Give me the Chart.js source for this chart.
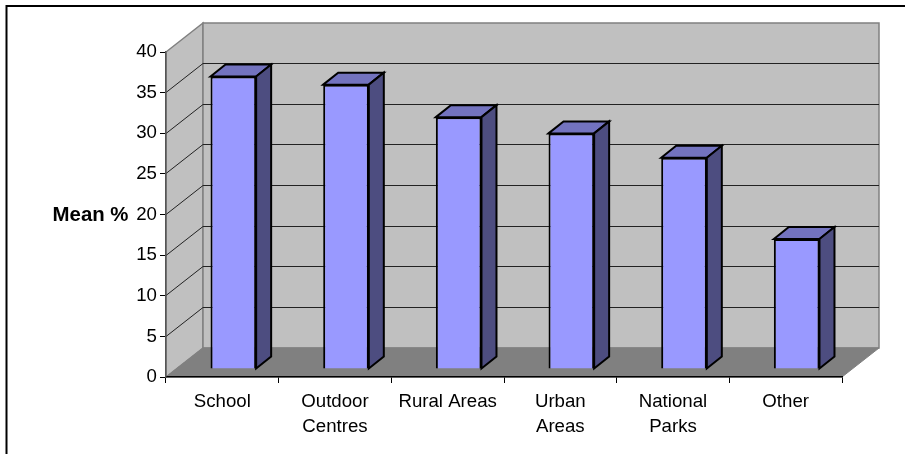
<!DOCTYPE html>
<html>
<head>
<meta charset="utf-8">
<title>Mean %</title>
<script src="https://cdn.jsdelivr.net/npm/chart.js@4"></script>
<style>
    html, body { margin: 0; padding: 0; background: #fff; }
    #wrap { width: 905px; height: 454px; }
</style>
</head>
<body>
<div id="wrap"><canvas id="meanChart" width="905" height="454"></canvas></div>
<script>
/* ==========================================
   DATA
========================================== */

const categories = [
    "School",
    ["Outdoor", "Centres"],
    "Rural Areas",
    ["Urban", "Areas"],
    ["National", "Parks"],
    "Other"
];
const meanValues = [36, 35, 31, 29, 26, 16];
const yTicks = [0, 5, 10, 15, 20, 25, 30, 35, 40];
const yTitle = "Mean %";

/* ==========================================
   3D LOOK OF THE OLD SPREADSHEET CHART
========================================== */

const wallDepth = { x: 37, y: -29 };
const barShift = { x: 11, y: -8 };
const barDepth = { x: 15, y: -12 };

function polygon(ctx, points, fill, stroke, lineWidth) {
    ctx.beginPath();
    points.forEach((p, i) => i ? ctx.lineTo(p[0], p[1]) : ctx.moveTo(p[0], p[1]));
    ctx.closePath();
    ctx.fillStyle = fill;
    ctx.fill();
    if (stroke) {
        ctx.strokeStyle = stroke;
        ctx.lineWidth = lineWidth;
        ctx.stroke();
    }
}

const frame3d = {
    id: "frame3d",

    beforeDraw(chart) {
        const { ctx, chartArea: a } = chart;
        const y = chart.scales.y;
        const dx = wallDepth.x, dy = wallDepth.y;

        ctx.save();

        // the chart object is cropped: only its top and left border show
        ctx.strokeStyle = "#000";
        ctx.lineWidth = 2;
        ctx.beginPath();
        ctx.moveTo(6.5, 454);
        ctx.lineTo(6.5, 6);
        ctx.lineTo(905, 6);
        ctx.stroke();

        // side wall, back wall, floor
        polygon(ctx, [[a.left, a.top], [a.left + dx, a.top + dy], [a.left + dx, a.bottom + dy], [a.left, a.bottom]], "#C0C0C0", "#808080", 1.5);
        polygon(ctx, [[a.left + dx, a.top + dy], [a.right + dx, a.top + dy], [a.right + dx, a.bottom + dy], [a.left + dx, a.bottom + dy]], "#C0C0C0", "#808080", 1.5);
        polygon(ctx, [[a.left, a.bottom], [a.left + dx, a.bottom + dy], [a.right + dx, a.bottom + dy], [a.right, a.bottom]], "#808080", "#808080", 1);

        // gridlines run along the side wall and then across the back
        ctx.strokeStyle = "#222";
        ctx.lineWidth = 1;
        yTicks.slice(1, -1).forEach(v => {
            const py = Math.floor(y.getPixelForValue(v)) + 0.5;
            ctx.beginPath();
            ctx.moveTo(a.left, py);
            ctx.lineTo(a.left + dx, py + dy);
            ctx.lineTo(a.right + dx, py + dy);
            ctx.stroke();
        });

        // y axis title
        ctx.fillStyle = "#000";
        ctx.font = "bold 20.4px 'Liberation Sans'";
        ctx.textAlign = "right";
        ctx.textBaseline = "middle";
        ctx.fillText(yTitle, 128.5, y.getPixelForValue(20) + 1);

        ctx.restore();
    },

    beforeDatasetsDraw(chart) {
        const { ctx } = chart;
        ctx.save();
        ctx.translate(barShift.x, barShift.y);

        // top and side faces go under the native bar, which is the front face
        chart.getDatasetMeta(0).data.forEach(bar => {
            const half = bar.width / 2;
            const l = bar.x - half, r = bar.x + half, t = bar.y, b = bar.base;
            const dx = barDepth.x, dy = barDepth.y;
            polygon(ctx, [[l, t], [l + dx, t + dy], [r + dx, t + dy], [r, t]], "#7373BF", "#000", 2);
            polygon(ctx, [[r, t], [r + dx, t + dy], [r + dx, b + dy], [r, b]], "#4D4D80", "#000", 2);
        });
    },

    afterDatasetsDraw(chart) {
        chart.ctx.restore();
    }
};

/* ==========================================
   CHART
========================================== */

new Chart(document.getElementById("meanChart"), {
    type: "bar",

    data: {
        labels: categories,
        datasets: [{
            label: yTitle,
            data: meanValues,
            backgroundColor: "#9999FF",
            borderColor: "#000",
            borderWidth: 2,
            barPercentage: 0.405,
            categoryPercentage: 1,
            clip: false
        }]
    },

    options: {
        responsive: false,
        animation: false,
        layout: { padding: { left: 0, top: 52, right: 63, bottom: 0 } },

        plugins: {
            legend: { display: false },
            tooltip: { enabled: false }
        },

        scales: {
            x: {
                afterFit: scale => { scale.height = 77; },
                border: { color: "#000", width: 1.5 },
                grid: { drawOnChartArea: false, color: "#000", tickLength: 6 },
                ticks: {
                    color: "#000",
                    padding: 6,
                    maxRotation: 0,
                    autoSkip: false,
                    font: { family: "'Liberation Sans'", size: 18.67, lineHeight: 1.34 }
                }
            },
            y: {
                min: 0,
                max: 40,
                afterFit: scale => { scale.width = 166; },
                afterBuildTicks: scale => { scale.ticks = yTicks.map(value => ({ value })); },
                border: { color: "#555", width: 1.5 },
                grid: { drawOnChartArea: false, color: "#000", tickLength: 6 },
                ticks: {
                    color: "#000",
                    padding: 3,
                    font: { family: "'Liberation Sans'", size: 18.67 }
                }
            }
        }
    },

    plugins: [frame3d]
});
</script>
</body>
</html>
